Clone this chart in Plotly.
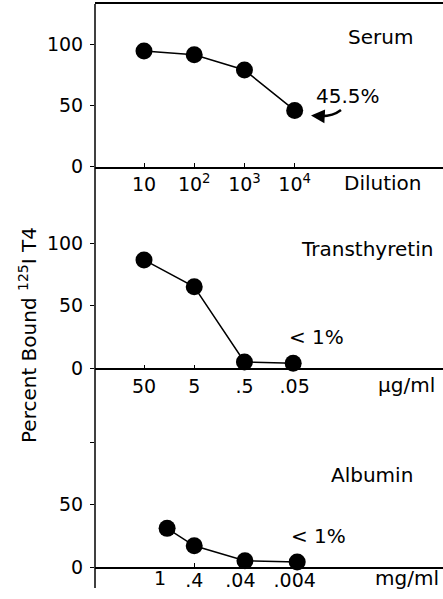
import plotly.graph_objects as go

W = 443
HE = 588  # effective rendered height of the figure area
FONT = "DejaVu Sans"

# ---- data ----
serum_pos = [1, 2, 3, 4]
serum_vals = [94.5, 91.5, 79, 46]
serum_ticks = ["10", "10<sup>2</sup>", "10<sup>3</sup>", "10<sup>4</sup>"]

ttr_pos = [1, 2, 3, 3.97]
ttr_vals = [86.5, 65, 5, 4]
ttr_ticks = ["50", "5", ".5", ".05"]

alb_pos = [1.46, 2, 3.01, 4.05]
alb_vals = [31, 17, 5, 4]
alb_tick_pos = [2, 2.92, 4.0]
alb_ticks = [".4", ".04", ".004"]

y_ticks = [0, 50, 100]


def px(x):
    return x / W


def py(y):
    return (HE - y) / HE


fig = go.Figure()

mk = dict(size=17, color="black")
ln = dict(color="black", width=1.5)
fig.add_trace(go.Scatter(x=serum_pos, y=serum_vals, mode="lines+markers", marker=mk, line=ln,
                         xaxis="x", yaxis="y", cliponaxis=False, showlegend=False))
fig.add_trace(go.Scatter(x=ttr_pos, y=ttr_vals, mode="lines+markers", marker=mk, line=ln,
                         xaxis="x2", yaxis="y2", cliponaxis=False, showlegend=False))
fig.add_trace(go.Scatter(x=alb_pos, y=alb_vals, mode="lines+markers", marker=mk, line=ln,
                         xaxis="x3", yaxis="y3", cliponaxis=False, showlegend=False))

scale = 50.23
r0 = 1 - 49 / scale
r1 = r0 + 348 / scale
xdom = [px(95), 1]
tf = dict(family=FONT, size=19, color="black")


def xax(anchor, tickvals, ticktext, mirror=False, standoff=0):
    return dict(domain=xdom, range=[r0, r1], anchor=anchor, showline=True, linecolor="black",
                linewidth=1.5, mirror=mirror, ticks="inside", ticklen=4, tickwidth=1.2,
                tickcolor="black", tickvals=tickvals, ticktext=ticktext, tickfont=tf,
                showgrid=False, zeroline=False, ticklabelstandoff=standoff)


def yax(anchor, bottom_px, top_px, pxper, ticktext):
    top_val = (bottom_px - top_px) / pxper
    return dict(domain=[py(bottom_px), py(top_px)], range=[0, top_val], anchor=anchor,
                showline=False, ticks="outside", ticklen=4, tickwidth=1.2, tickcolor="black",
                tickvals=y_ticks, ticktext=ticktext, tickfont=tf, showgrid=False,
                zeroline=False, ticklabelstandoff=3)


fig.update_layout(
    autosize=True, margin=dict(l=0, r=0, t=0, b=0, pad=0),
    paper_bgcolor="white", plot_bgcolor="white",
    xaxis=xax("y", serum_pos, serum_ticks, mirror=True),
    yaxis=yax("x", 166.7, 4, 1.224, ["0", "50", "100"]),
    xaxis2=xax("y2", ttr_pos[:2] + [3, 4], ttr_ticks),
    yaxis2=yax("x2", 368.3, 190, 1.253, ["0", "50", "100"]),
    xaxis3=xax("y3", alb_tick_pos, alb_ticks, standoff=-5),
    yaxis3=yax("x3", 567, 390, 1.246, ["0", "50", ""]),
)

# continuous vertical axis line
fig.add_shape(type="line", xref="paper", yref="paper", x0=px(95), x1=px(95), y0=py(4), y1=0,
              line=dict(color="black", width=1.5))

def ann(text, x, y, size=20, **kw):
    fig.add_annotation(text=text, x=px(x), y=py(y), xref="paper", yref="paper", showarrow=False,
                       font=dict(family=FONT, size=size, color="black"), xanchor="center",
                       yanchor="middle", **kw)

ann("Serum", 380, 37)
ann("Transthyretin", 366.5, 249)
ann("Albumin", 372, 475)
ann("Dilution", 383, 183)
ann("µg/ml", 406.5, 385.5)
ann("mg/ml", 407, 578)
ann("45.5%", 348, 96)
ann("< 1%", 316, 337)
ann("< 1%", 318, 536)
ann("1", 160, 578, size=19)
ann("Percent Bound <sup>125</sup>I T4", 28, 335, textangle=-90)

# curved arrow
fig.add_shape(type="path", xref="paper", yref="paper",
              path=f"M {px(341)},{py(110)} Q {px(332)},{py(117)} {px(318)},{py(116)}",
              line=dict(color="black", width=2.5))
fig.add_annotation(x=px(311), y=py(115.5), xref="paper", yref="paper", ax=9, ay=0.5,
                   showarrow=True, arrowhead=2, arrowsize=1.1, arrowwidth=2.5, arrowcolor="black",
                   text="")

post = (
    "document.documentElement.style.margin='0';"
    "document.body.style.margin='0';"
    "document.body.style.overflow='hidden';"
)
fig.write_html("out.html", config={"displayModeBar": False},
               default_width="100vw", default_height="100vh", post_script=post)
